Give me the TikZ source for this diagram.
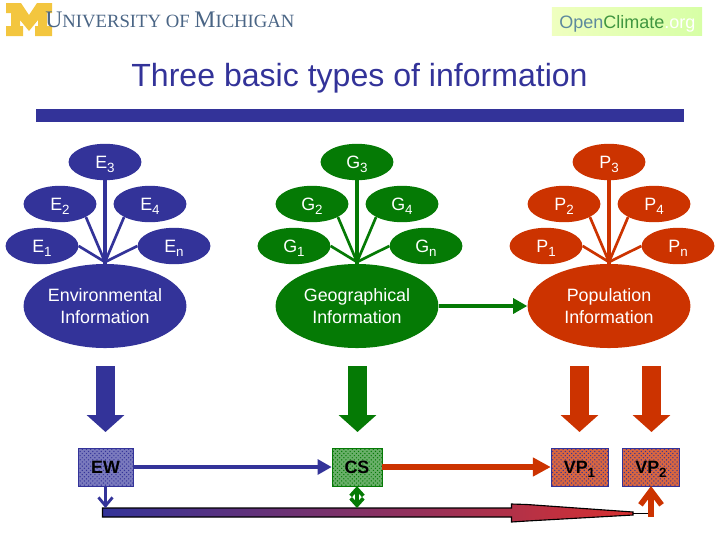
\documentclass[tikz,border=0pt]{standalone}
\usepackage{fontspec}
\setmainfont{Liberation Sans}
\newfontfamily\logofont{Liberation Serif}
\usetikzlibrary{shapes.geometric,arrows.meta,patterns}
\definecolor{infoblue}{HTML}{333399}
\definecolor{infogreen}{HTML}{057A05}
\definecolor{infored}{HTML}{CC3300}
\definecolor{barred}{HTML}{D83030}
\definecolor{michigan}{HTML}{F3C63F}
\definecolor{michtext}{HTML}{4A6585}
\newcommand{\lab}[2]{#1\smash{\raisebox{-0.5ex}{\fontsize{9.5}{10}\selectfont #2}}}
\tikzset{
	small/.style={ellipse,fill=#1,text=white,inner sep=0pt,minimum width=1.82cm,minimum height=0.91cm,font=\fontsize{12.7}{13}\selectfont},
	big/.style={ellipse,fill=#1,text=white,inner sep=0pt,minimum width=4.07cm,minimum height=2.1cm,align=center,font=\fontsize{12.7}{15.6}\selectfont},
	spoke/.style={draw=#1,line width=1.9pt},
	stem/.style={draw=#1,line width=3pt},
	drop/.style={draw=#1,line width=13.5pt,-{Triangle[length=12pt,width=26pt,color=#1]}},
	link/.style={draw=#1,line width=3.4pt,-{Triangle[length=10pt,width=10.5pt,color=#1]}},
	widelink/.style={draw=#1,line width=3.6pt,-{Triangle[length=12.8pt,width=12.8pt,color=#1]}},
	tick/.style={draw=#1,line width=2pt,-{Straight Barb[length=6pt,width=10pt,color=#1]}},
	cell/.style 2 args={draw=#1,preaction={fill=#2},pattern=crosshatch dots,pattern color=#1,inner sep=0pt,minimum height=0.94cm,font=\fontsize{12.7}{13}\selectfont\bfseries},
}
\begin{document}
\begin{tikzpicture}[x=0.025cm,y=-0.025cm]
	\useasboundingbox (0,0) rectangle (720,540);
	%Michigan logo
	\fill[michigan] (6,3) -- (21,3) -- (29,15) -- (37,3) -- (52,3) -- (52,13) -- (47,13) -- (47,26) -- (52,26) -- (52,36)
		-- (35,36) -- (35,26) -- (38,26) -- (38,20) -- (29,31) -- (20,20) -- (20,26) -- (23,26) -- (23,36) -- (6,36)
		-- (6,26) -- (11,26) -- (11,13) -- (6,13) -- cycle;
	\node[anchor=base west,inner sep=0pt,text=michtext] (michigan) at (45,27) {\logofont\fontsize{16.9}{17}\selectfont U\fontsize{13.3}{17}\selectfont NIVERSITY OF \fontsize{16.9}{17}\selectfont M\fontsize{13.3}{17}\selectfont ICHIGAN};
	%OpenClimate logo
	\node[left color=green!25!yellow!25,right color=green!45!yellow!35,minimum width=3.75cm,minimum height=0.72cm,inner sep=0pt] (openclimate) at (627,21.5) {};
	\node[anchor=base west,inner sep=0pt] (openclimatetext) at (559,28) {\fontsize{12.8}{14}\selectfont\textcolor{cyan!50!black!85}{Open}\textcolor{green!45!black!75}{Climate}\textcolor{white}{.org}};
	%Title and rule
	\node[anchor=base,inner sep=0pt,text=infoblue,font=\fontsize{22.8}{26}\selectfont] (title) at (359.5,86) {Three basic types of information};
	\fill[infoblue] (36,109) rectangle (684,122);
	%The three trees
	\foreach \cx/\letter/\col in {105/E/infoblue,357/G/infogreen,609/P/infored} {
		\coordinate (\letter hub) at (\cx,262);
		\node[small=\col] (\letter3) at (\cx,162) {\lab{\letter}{3}};
		\node[small=\col] (\letter2) at (\cx-45,204) {\lab{\letter}{2}};
		\node[small=\col] (\letter4) at (\cx+45,204) {\lab{\letter}{4}};
		\node[small=\col] (\letter1) at (\cx-63,246) {\lab{\letter}{1}};
		\node[small=\col] (\letter n) at (\cx+69,246) {\lab{\letter}{n}};
		\draw[stem=\col] (\letter3) -- (\cx,266);
		\draw[spoke=\col] (\letter2.south east) -- (\letter hub);
		\draw[spoke=\col] (\letter4.south west) -- (\letter hub);
		\draw[spoke=\col] (\letter1.east) -- (\letter hub);
		\draw[spoke=\col] (\letter n.west) -- (\letter hub);
	}
	%Information ellipses
	\node[big=infoblue] (environmental) at (105,306) {Environmental\\Information};
	\node[big=infogreen] (geographical) at (357,306) {Geographical\\Information};
	\node[big=infored] (population) at (609,306) {Population\\Information};
	\draw[link=infogreen] (geographical) -- (population);
	%Big arrows down
	\foreach \cx/\col/\i in {105.5/infoblue/0,357.5/infogreen/1,579.5/infored/2,651.5/infored/3} {
		\coordinate (dropTop\i) at (\cx,366);
		\coordinate (dropTip\i) at (\cx,432);
		\draw[drop=\col] (dropTop\i) -- (dropTip\i);
	}
	%Boxes
	\node[cell={infoblue}{infoblue!65!white},minimum width=1.37cm] (ew) at (105.5,467) {EW};
	\node[cell={infogreen}{infogreen!60!white},minimum width=1.25cm] (cs) at (357,467) {CS};
	\node[cell={infoblue}{infored!75!white},minimum width=1.42cm] (vp1) at (579.5,467) {\lab{VP}{1}};
	\node[cell={infoblue}{infored!75!white},minimum width=1.42cm] (vp2) at (651,467) {\lab{VP}{2}};
	\draw[link=infoblue] (ew) -- (cs);
	\draw[widelink=infored] (cs) -- (vp1);
	%Time bar
	\coordinate (barEnd) at (648,513.5);
	\draw[black,line width=0.8pt,left color=infoblue,right color=barred] (102.5,508) -- (511.5,508) -- (511.5,504) -- (527,504.5) -- (633,512)
		-- (633,515) -- (527,521) -- (511.5,522) -- (511.5,517) -- (102.5,517) -- cycle;
	\draw[black,line width=1pt] (633,513.5) -- (barEnd);
	%Small arrows on the bar
	\coordinate (ewFoot) at (105.5,508);
	\coordinate (csFoot) at (357,508);
	\coordinate (vpFoot) at (651,517);
	\draw[tick=infoblue] (ew) -- (ewFoot);
	\draw[tick=infogreen,line width=2.6pt,{Straight Barb[length=5pt,width=9pt,color=infogreen]}-{Straight Barb[length=5pt,width=9pt,color=infogreen]}] (cs) -- (csFoot);
	\draw[tick=infored,line width=4pt,-{Straight Barb[length=10pt,width=15pt,color=infored]}] (vpFoot) -- (vp2);
\end{tikzpicture}
\end{document}
